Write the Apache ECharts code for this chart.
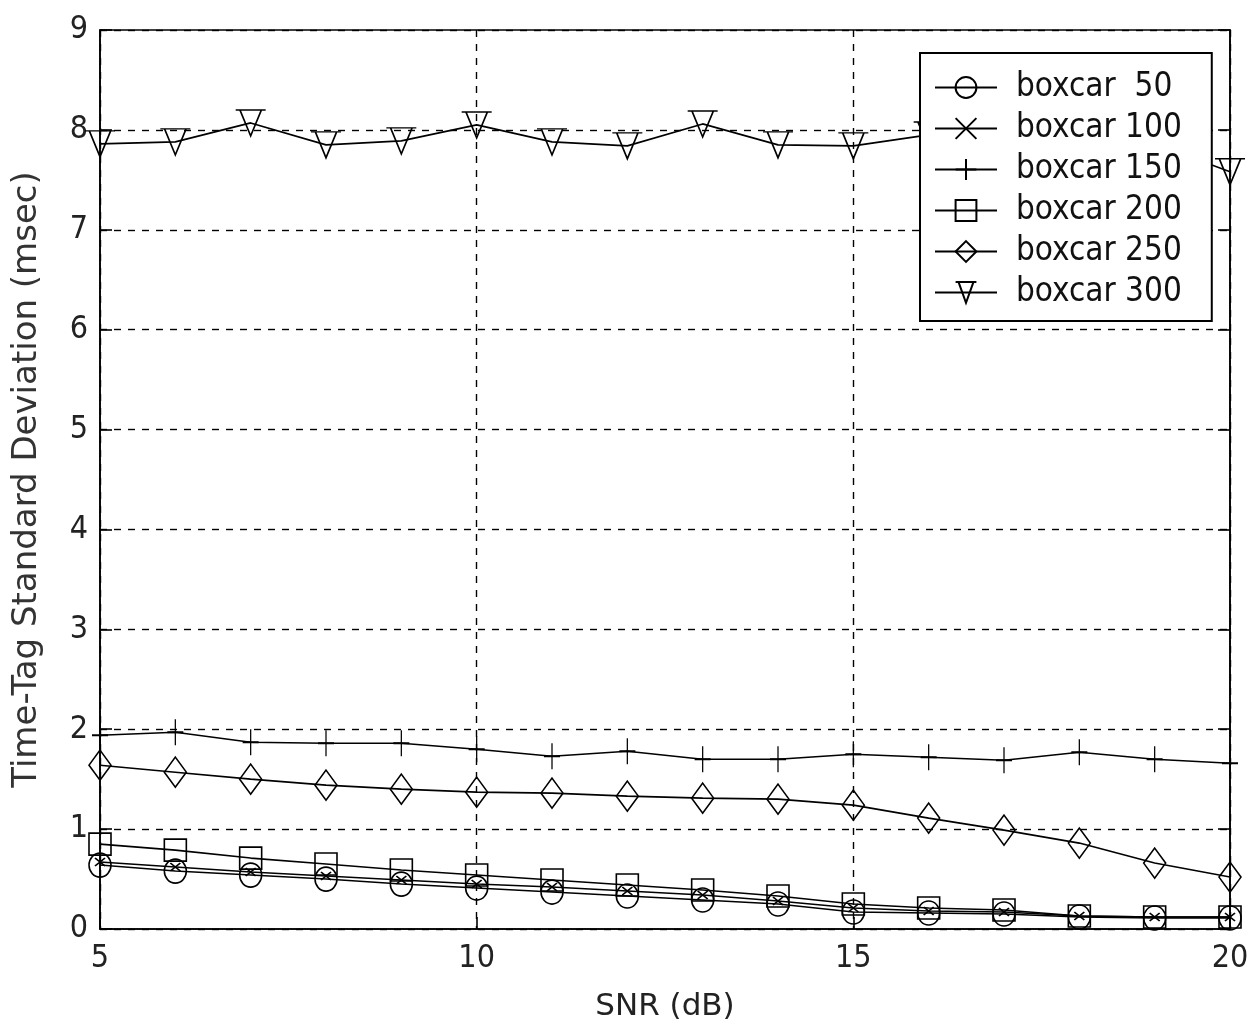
<!DOCTYPE html>
<html>
<head>
<meta charset="utf-8">
<title>boxcar</title>
<script src="https://cdn.jsdelivr.net/npm/echarts@6/dist/echarts.min.js"></script>
<style>
html,body{margin:0;padding:0;background:#fff;}
#chart{width:1252px;height:1027px;}
</style>
</head>
<body>
<div id="chart"></div>
<script>
'use strict';

// x values (SNR dB)
var snr = [5, 6, 7, 8, 9, 10, 11, 12, 13, 14, 15, 16, 17, 18, 19, 20];

var names = ['boxcar  50', 'boxcar 100', 'boxcar 150', 'boxcar 200', 'boxcar 250', 'boxcar 300'];

var box50  = [0.64, 0.58, 0.54, 0.50, 0.45, 0.41, 0.37, 0.33, 0.29, 0.25, 0.17, 0.16, 0.15, 0.12, 0.11, 0.11];
var box100 = [0.67, 0.62, 0.57, 0.53, 0.49, 0.45, 0.42, 0.38, 0.34, 0.28, 0.21, 0.18, 0.17, 0.13, 0.12, 0.12];
var box150 = [1.94, 1.97, 1.87, 1.86, 1.86, 1.80, 1.73, 1.78, 1.70, 1.70, 1.75, 1.72, 1.69, 1.77, 1.70, 1.66];
var box200 = [0.85, 0.79, 0.71, 0.65, 0.59, 0.54, 0.49, 0.44, 0.39, 0.33, 0.25, 0.21, 0.19, 0.13, 0.12, 0.12];
var box250 = [1.64, 1.57, 1.50, 1.44, 1.40, 1.37, 1.36, 1.33, 1.31, 1.30, 1.24, 1.11, 0.99, 0.86, 0.66, 0.52];
var box300 = [7.86, 7.88, 8.07, 7.85, 7.89, 8.05, 7.88, 7.84, 8.06, 7.85, 7.84, 7.95, 7.90, 7.88, 7.86, 7.58];

var yTicks = ['0', '1', '2', '3', '4', '5', '6', '7', '8', '9'];

var FONT = '"DejaVu Sans Condensed", "DejaVu Sans", sans-serif';
var FONT_WIDE = '"DejaVu Sans", sans-serif';

var markers = {
    circle: { symbol: 'circle', size: [22, 24] },
    cross: { symbol: 'path://M0,0L10,10M10,0L0,10', size: [10, 8] },
    plus: { symbol: 'path://M5,0V10M0,5H10', size: [16, 26] },
    square: { symbol: 'rect', size: [22, 22] },
    diamond: { symbol: 'diamond', size: [22, 30] },
    tri: { symbol: 'path://M0,0H14M2,0L7,10L12,0', size: [30, 26] }
};

function pairs(vals) {
    var out = [];
    for (var i = 0; i < snr.length; i++) {
        out.push([snr[i], vals[i]]);
    }
    return out;
}

function makeSeries(name, vals, mk) {
    return {
        name: name,
        type: 'line',
        data: pairs(vals),
        symbol: mk.symbol,
        symbolSize: mk.size,
        showAllSymbol: true,
        animation: false,
        lineStyle: { color: '#000', width: 1.6 },
        itemStyle: { color: 'rgba(255,255,255,0)', borderColor: '#000', borderWidth: 1.6 },
        emphasis: { disabled: true },
        z: 3
    };
}

var myChart = echarts.init(document.getElementById('chart'), null, { renderer: 'canvas' });

var option = {
    backgroundColor: '#fff',
    textStyle: { fontFamily: FONT },
    grid: {
        left: 100, right: 22, top: 30, bottom: 98,
        show: true, borderColor: '#000', borderWidth: 1.6, backgroundColor: '#fff'
    },
    legend: {
        left: 920, top: 53,
        orient: 'vertical',
        data: names,
        itemWidth: 62, itemHeight: 26, itemGap: 8,
        padding: [18, 30, 12, 14],
        backgroundColor: '#fff',
        borderColor: '#000', borderWidth: 2,
        borderRadius: 0,
        textStyle: { fontFamily: FONT, fontSize: 33, lineHeight: 30, color: '#111', padding: [0, 0, 0, 14] },
        selectedMode: false
    },
    xAxis: {
        type: 'value',
        min: 5, max: 20, interval: 5,
        name: 'SNR (dB)',
        nameLocation: 'middle',
        nameGap: 62,
        nameTextStyle: { fontFamily: FONT_WIDE, fontSize: 31, color: '#222' },
        axisLine: { show: true, lineStyle: { color: '#000', width: 1.6 } },
        axisTick: { show: true, inside: true, length: 12, lineStyle: { color: '#000', width: 1.6 } },
        axisLabel: { fontFamily: FONT, fontSize: 32, color: '#222', margin: 14 },
        splitLine: { show: true, lineStyle: { color: '#000', width: 1.4, type: [7, 7] } }
    },
    yAxis: [{
        type: 'value',
        min: 0, max: 9, interval: 1,
        name: 'Time-Tag Standard Deviation (msec)',
        nameLocation: 'middle',
        nameGap: 56,
        nameTextStyle: { fontFamily: FONT_WIDE, fontSize: 34, color: '#333' },
        axisLine: { show: true, lineStyle: { color: '#000', width: 1.6 } },
        axisTick: { show: true, inside: true, length: 12, lineStyle: { color: '#000', width: 1.6 } },
        axisLabel: {
            fontFamily: FONT, fontSize: 32, color: '#222', margin: 12,
            formatter: function (v) { return yTicks[Math.round(v)]; }
        },
        splitLine: { show: true, lineStyle: { color: '#000', width: 1.4, type: [7, 7] } }
    }, {
        type: 'value',
        position: 'right',
        min: 0, max: 9, interval: 1,
        axisLine: { show: true, lineStyle: { color: '#000', width: 1.6 } },
        axisTick: { show: true, inside: true, length: 12, lineStyle: { color: '#000', width: 1.6 } },
        axisLabel: { show: false },
        splitLine: { show: false }
    }],
    series: [
        makeSeries(names[0], box50, markers.circle),
        makeSeries(names[1], box100, markers.cross),
        makeSeries(names[2], box150, markers.plus),
        makeSeries(names[3], box200, markers.square),
        makeSeries(names[4], box250, markers.diamond),
        makeSeries(names[5], box300, markers.tri)
    ]
};

myChart.setOption(option, true);
</script>
</body>
</html>
